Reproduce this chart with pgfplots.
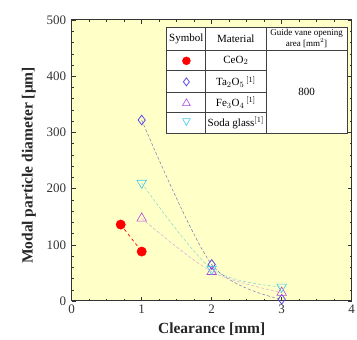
\documentclass[border=0pt]{standalone}
\usepackage{fontspec}
\setmainfont{Liberation Serif}
\usepackage{pgfplots}
\pgfplotsset{compat=1.18}
\definecolor{bgy}{HTML}{FFFFC8}
\definecolor{cred}{HTML}{FF0000}
\definecolor{cblue}{HTML}{5A4BE6}
\definecolor{cviol}{HTML}{B048E0}
\definecolor{ccyan}{HTML}{40C8F0}
\definecolor{lblue}{HTML}{7878C0}
\definecolor{lviol}{HTML}{D8A8E0}
\definecolor{lcyan}{HTML}{80D8D0}
\begin{document}
\begin{tikzpicture}
\useasboundingbox (-71.7pt,-39pt) rectangle (285.3pt,301pt);
\begin{axis}[
  scale only axis, width=280pt, height=281pt,
  xmin=0, xmax=4, ymin=0, ymax=500,
  xtick={0,1,2,3,4}, ytick={0,100,200,300,400,500},
  minor x tick num=3, minor y tick num=4,
  tick align=inside, tick pos=both,
  major tick length=4pt, minor tick length=2pt,
  axis background/.style={fill=bgy},
  axis line style={line width=1pt, black!80},
  tick style={black!80, line width=0.4pt},
  ticklabel style={font=\fontsize{13}{13}\selectfont, text=black!80},
  yticklabel style={xshift=-2pt},
  /pgf/number format/assume math mode=true,
  xlabel={\textbf{Clearance [mm]}},
  ylabel={\textbf{Modal particle diameter [μm]}},
  label style={font=\fontsize{15.5}{15.5}\selectfont, text=black!85},
  xlabel style={yshift=-3pt},
  ylabel style={yshift=4pt, xshift=-5pt},
  clip=false,
  legend style={at={(axis cs:1.646,373.5)}, anchor=center, draw=none, fill=none,
    nodes={inner sep=0pt}, row sep=13pt, column sep=0pt},
  legend cell align=left,
]
% dashed connection curves
\addplot[forget plot, cred, dashed, line width=0.7pt] coordinates {(0.7,136) (1,88)};
\addplot[forget plot, lblue, densely dashed, line width=0.5pt, smooth] coordinates {(1,322) (2,65) (3,3)};
\addplot[forget plot, lviol, densely dashed, line width=0.5pt, smooth] coordinates {(1,147) (2,52) (3,15)};
\addplot[forget plot, lcyan, densely dashed, line width=0.5pt, smooth] coordinates {(1,210) (2,57) (3,25)};
% markers
\addplot[forget plot, only marks, mark=*, mark size=4.7pt, cred] coordinates {(0.7,136) (1,88)};
\addplot[forget plot, only marks, mark=diamond, mark size=4.8pt, cblue, mark options={fill=white, line width=0.8pt}] coordinates {(1,322) (2,65) (3,3)};
\addplot[forget plot, only marks, mark=triangle, mark size=5.5pt, cviol, mark options={fill=white, line width=0.6pt}] coordinates {(1,147) (2,52) (3,15)};
\addplot[forget plot, only marks, mark=triangle, mark size=5.5pt, ccyan, mark options={fill=white, line width=0.6pt, rotate=180}] coordinates {(1,210) (2,57) (3,25)};
% table
\fill[white] (axis cs:1.361,298.9) rectangle (axis cs:3.933,487.5);
\draw[black!75, line width=0.5pt] (axis cs:1.914,298.9) -- (axis cs:1.914,487.5);
\draw[black!75, line width=0.5pt] (axis cs:2.776,298.9) -- (axis cs:2.776,487.5);
\draw[black!75, line width=0.5pt] (axis cs:1.361,446.6) -- (axis cs:3.933,446.6);
\draw[black!75, line width=0.5pt] (axis cs:1.361,409.8) -- (axis cs:2.776,409.8);
\draw[black!75, line width=0.5pt] (axis cs:1.361,370.6) -- (axis cs:2.776,370.6);
\draw[black!75, line width=0.5pt] (axis cs:1.361,335.0) -- (axis cs:2.776,335.0);
\draw[black!75, line width=1pt] (axis cs:1.361,298.9) rectangle (axis cs:3.933,487.5);
\node[font=\fontsize{11}{11}\selectfont] at (axis cs:1.6375,467) {Symbol};
\node[font=\fontsize{11}{11}\selectfont] at (axis cs:2.345,467) {Material};
\node[font=\fontsize{9}{9}\selectfont, align=center] at (axis cs:3.355,467) {Guide vane opening\\area [mm$^2$]};
\node[font=\fontsize{11}{11}\selectfont] at (axis cs:2.345,428) {CeO$_2$};
\node[font=\fontsize{11}{11}\selectfont] at (axis cs:2.345,390) {Ta$_2$O$_5$\,$^{[1]}$};
\node[font=\fontsize{11}{11}\selectfont] at (axis cs:2.345,353) {Fe$_3$O$_4$\,$^{[1]}$};
\node[font=\fontsize{11}{11}\selectfont] at (axis cs:2.345,317) {Soda glass$^{[1]}$};
\node[font=\fontsize{11}{11}\selectfont] at (axis cs:3.355,372) {800};
% legend symbols
\addlegendimage{only marks, mark=*, mark size=4pt, cred}
\addlegendentry{}
\addlegendimage{only marks, mark=diamond, mark size=4pt, cblue, mark options={fill=white, line width=0.8pt}}
\addlegendentry{}
\addlegendimage{only marks, mark=triangle, mark size=4.5pt, cviol, mark options={fill=white, line width=0.6pt}}
\addlegendentry{}
\addlegendimage{only marks, mark=triangle, mark size=4.5pt, ccyan, mark options={fill=white, line width=0.6pt, rotate=180}}
\addlegendentry{}
\end{axis}
\end{tikzpicture}
\end{document}
